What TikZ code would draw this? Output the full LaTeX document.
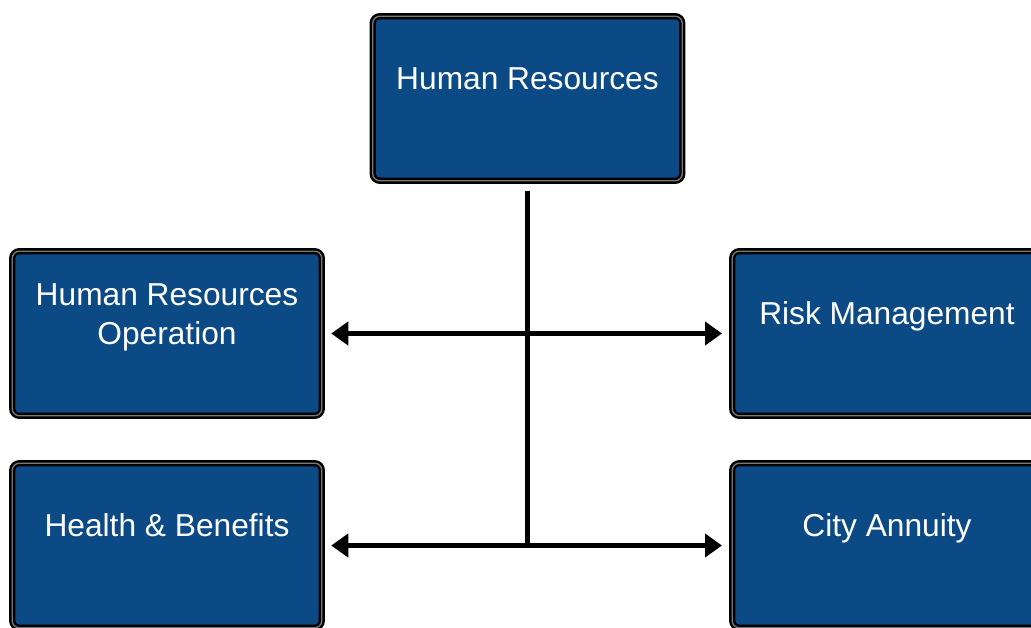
\documentclass[tikz,border=0pt]{standalone}
\usepackage{fontspec}
\setmainfont{Liberation Sans}
\usetikzlibrary{arrows.meta}
\definecolor{boxblue}{RGB}{12,74,134}
\definecolor{rimgray}{RGB}{120,120,120}
\tikzset{
  orgbox/.style={draw=black, line width=2.5pt, double=rimgray, double distance=1.3pt,
    fill=boxblue, rounded corners=7pt, inner sep=0pt,
    minimum width=309.5pt, minimum height=164.5pt},
  boxtext/.style={text=white, font=\fontsize{31.7}{39}\selectfont, align=center, inner sep=0pt, anchor=base},
  link/.style={line width=5pt, black},
  twoway/.style={link, {Triangle[length=17pt,width=23pt]}-{Triangle[length=17pt,width=23pt]}}
}
\begin{document}
\begin{tikzpicture}[x=1pt,y=-1pt]
\useasboundingbox (0,0) rectangle (1031,627);
\node[orgbox] (hr)   at (527.5,98.5) {};
\node[orgbox] (hro)  at (167,333.5) {};
\node[orgbox] (risk) at (887,333.5) {};
\node[orgbox] (hb)   at (167,545.5) {};
\node[orgbox] (ca)   at (887,545.5) {};
\node[boxtext] (hrT)   at ([yshift=-74.25pt]hr.north) {Human Resources};
\node[boxtext] (hroT)  at ([yshift=-94pt]hro.north) {Human Resources\\Operation};
\node[boxtext] (riskT) at ([yshift=-74.25pt]risk.north) {Risk Management};
\node[boxtext] (hbT)   at ([yshift=-74.25pt]hb.north) {Health \& Benefits};
\node[boxtext] (caT)   at ([yshift=-74.25pt]ca.north) {City Annuity};
\coordinate (j) at (hr.south |- hb.east);
\draw[link, shorten <=9pt] (hr.south) -- (j);
\draw[twoway, shorten <=8.25pt, shorten >=9pt] (hro.east) -- (risk.west);
\draw[twoway, shorten <=8.25pt, shorten >=9pt] (hb.east) -- (ca.west);
\end{tikzpicture}
\end{document}
